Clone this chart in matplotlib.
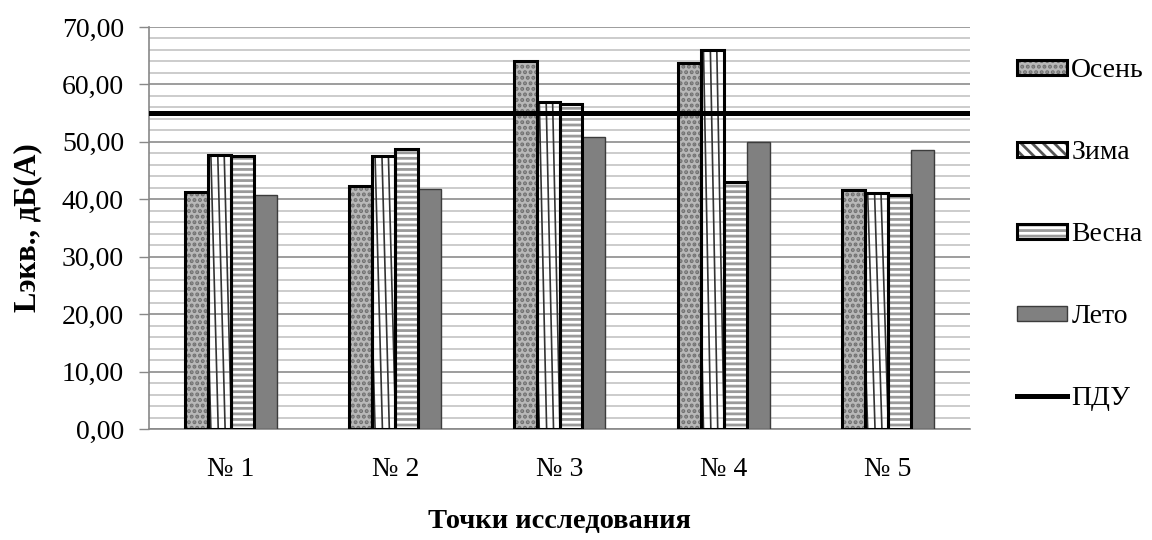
import matplotlib
matplotlib.use("Agg")
import matplotlib.pyplot as plt
import numpy as np
from matplotlib.patches import Patch
from matplotlib.lines import Line2D
from matplotlib.ticker import MultipleLocator, FuncFormatter

# Sampling points and equivalent noise levels, dB(A), by season
points = ["№ 1", "№ 2", "№ 3", "№ 4", "№ 5"]
autumn = [41.3, 42.4, 64.1, 63.7, 41.7]
winter = [47.7, 47.5, 57.0, 66.0, 41.1]
spring = [47.5, 48.8, 56.6, 43.0, 40.8]
summer = [40.7, 41.8, 50.9, 49.9, 48.6]
pdu_level = 55.0
season_names = ["Осень", "Зима", "Весна", "Лето"]

plt.rcParams["font.family"] = ["Liberation Serif", "DejaVu Serif"]
plt.rcParams["hatch.linewidth"] = 2.0

fig = plt.figure(figsize=(11.52, 5.4), dpi=100)
ax = fig.add_axes([149 / 1152, 111 / 540, 821 / 1152, 402 / 540])

x = np.arange(len(points))
w = 0.14
offs = [-1.5 * w, -0.5 * w, 0.5 * w, 1.5 * w]

autumn_face, autumn_dots = "#b8b8b8", "#707070"
spring_stripe = "#9a9a9a"

# Autumn: speckled grey fill with heavy black outline
ax.bar(x + offs[0], autumn, w, color=autumn_face, hatch="...", edgecolor=autumn_dots,
       linewidth=0, zorder=3)
ax.bar(x + offs[0], autumn, w, fill=False, edgecolor="black", linewidth=2.2, zorder=4)

# Winter: open bars with steep slanted strokes
wb = ax.bar(x + offs[1], winter, w, facecolor="none", edgecolor="black",
            linewidth=2.2, zorder=4)
for rect in wb:
    x0, bw, h = rect.get_x(), rect.get_width(), rect.get_height()
    for f in (-0.2, 0.12, 0.42, 0.7):
        ln, = ax.plot([x0 + f * bw, x0 + (f + 0.32) * bw], [h, 0],
                      color="#333333", linewidth=1.2, zorder=3)
        ln.set_clip_path(rect)

# Spring: grey horizontal stripes
ax.bar(x + offs[2], spring, w, color="white", hatch="---", edgecolor=spring_stripe,
       linewidth=0, zorder=3)
ax.bar(x + offs[2], spring, w, fill=False, edgecolor="black", linewidth=2.2, zorder=4)

# Summer: solid grey
ax.bar(x + offs[3], summer, w, color="#808080", edgecolor="#3c3c3c",
       linewidth=1.0, zorder=3)

# Permissible level line
ax.axhline(pdu_level, color="black", linewidth=3.6, zorder=5)

ax.set_xlim(-0.5, len(points) - 0.5)
ax.set_ylim(0, 70)
ax.yaxis.set_major_locator(MultipleLocator(10))
ax.yaxis.set_minor_locator(MultipleLocator(2))
ax.yaxis.set_major_formatter(FuncFormatter(lambda v, p: f"{v:.2f}".replace(".", ",")))
ax.grid(which="major", axis="y", color="#8c8c8c", linewidth=1.2, zorder=0)
ax.grid(which="minor", axis="y", color="#c4c4c4", linewidth=1.2, zorder=0)
ax.set_axisbelow(True)

ax.set_xticks(x)
ax.set_xticklabels(points)
ax.tick_params(axis="x", length=0, pad=20, labelsize=20)
ax.tick_params(axis="y", which="major", length=7, width=1, color="#888888",
               labelsize=20, pad=11)
ax.tick_params(axis="y", which="minor", length=0)

for side in ("top", "right"):
    ax.spines[side].set_visible(False)
for side in ("left", "bottom"):
    ax.spines[side].set_color("#888888")
    ax.spines[side].set_linewidth(1.2)

ax.set_xlabel("Точки исследования", fontsize=20.5, fontweight="bold")
ax.xaxis.set_label_coords(0.5, -0.2)
ax.set_ylabel("Lэкв., дБ(A)", fontsize=22, fontweight="bold")
ax.yaxis.set_label_coords(-0.13, 0.5)

# Legend proxies
h_autumn = (Patch(facecolor=autumn_face, hatch="...", edgecolor=autumn_dots, linewidth=0),
            Patch(fill=False, edgecolor="black", linewidth=2.2))
h_winter = (Patch(facecolor="white", hatch="\\\\\\", edgecolor="#555555", linewidth=0),
            Patch(fill=False, edgecolor="black", linewidth=2.2))
h_spring = (Patch(facecolor="white", hatch="---", edgecolor=spring_stripe, linewidth=0),
            Patch(fill=False, edgecolor="black", linewidth=2.2))
h_summer = Patch(facecolor="#808080", edgecolor="#3c3c3c", linewidth=1.0)
h_pdu = Line2D([], [], color="black", linewidth=3.6)

fig.legend([h_autumn, h_winter, h_spring, h_summer, h_pdu],
           season_names + ["ПДУ"],
           loc="upper left", bbox_to_anchor=(1006 / 1152, 1 - 47 / 540),
           frameon=False, fontsize=20, handlelength=1.8, handleheight=0.45,
           handletextpad=0.15, labelspacing=2.05, borderaxespad=0)

fig.savefig("out.png", dpi=100)
